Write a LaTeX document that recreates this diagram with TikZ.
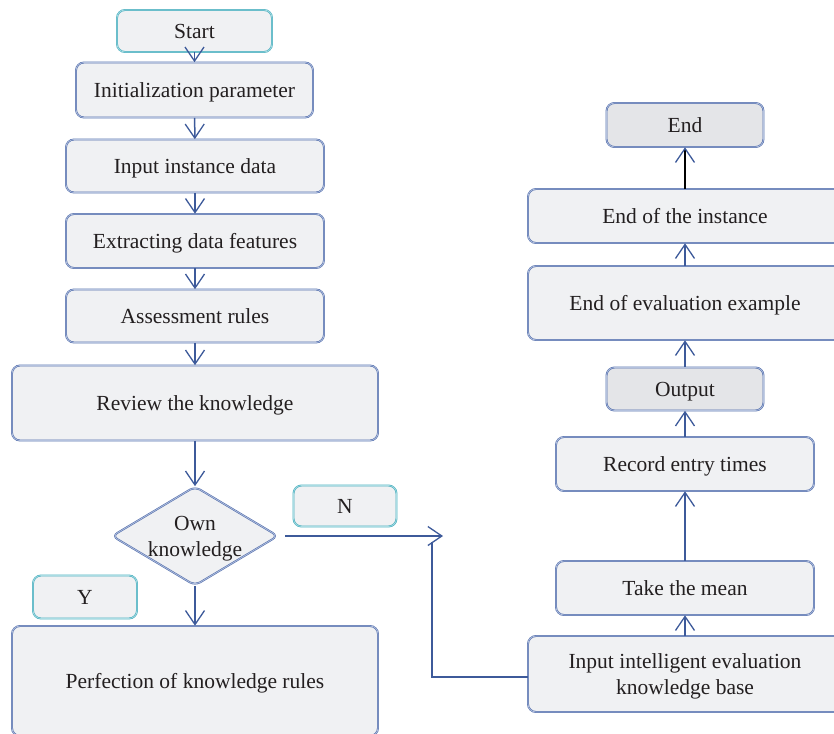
\documentclass[tikz,border=0pt]{standalone}
\usepackage{fontspec}
\setmainfont{Liberation Serif}
\usepackage{tikz}
\usetikzlibrary{arrows.meta}
\usetikzlibrary{shapes.geometric}
\usetikzlibrary{positioning}
\definecolor{boxfill}{HTML}{F0F1F3}
\definecolor{darkfill}{HTML}{E4E5E8}
\definecolor{boxline}{HTML}{5570AE}
\definecolor{boxinner}{HTML}{B3C1DE}
\definecolor{tealline}{HTML}{4AAFBF}
\definecolor{tealinner}{HTML}{A8DCE3}
\definecolor{arrowblue}{HTML}{3D5A9A}
\definecolor{txt}{HTML}{231F20}
\tikzstyle{stepbox}=[draw=boxline,double=boxinner,double distance=0.7pt,line width=0.6pt,fill=boxfill,rounded corners=8pt,text=txt,align=center,inner sep=2pt,text depth=0pt]
\tikzstyle{tagbox}=[stepbox,draw=tealline,double=tealinner]
\tikzstyle{decision}=[stepbox,diamond,aspect=1.68,inner sep=0pt,rounded corners=6pt]
\tikzstyle{flow}=[draw=arrowblue,line width=1.5pt,-{Straight Barb[length=14pt,width=19pt,line width=1.3pt]}]
\tikzstyle{wire}=[draw=arrowblue,line width=1.5pt]

\begin{document}
\begin{tikzpicture}[x=1pt,y=-1pt,font=\fontsize{21.5}{26}\selectfont]
\useasboundingbox (0,0) rectangle (834,733);
% left column
\node [tagbox,minimum width=155pt,minimum height=42pt] (start) at (194.5,31) {Start};
\node [stepbox,minimum width=237pt,minimum height=55pt] (init) at (194.5,90) {Initialization parameter};
\node [stepbox,minimum width=258pt,minimum height=53pt] (input) at (195,166) {Input instance data};
\node [stepbox,minimum width=258pt,minimum height=54pt] (extract) at (195,241) {Extracting data features};
\node [stepbox,minimum width=258pt,minimum height=53pt] (rules) at (195,316) {Assessment rules};
\node [stepbox,minimum width=366pt,minimum height=75pt] (review) at (195,403) {Review the knowledge};
\node [decision,minimum width=166pt,minimum height=99pt] (own) at (195,536) {Own\\knowledge};
\node [tagbox,minimum width=103pt,minimum height=41pt] (no) at (345,506) {N};
\node [tagbox,minimum width=104pt,minimum height=43pt] (yes) at (85,597) {Y};
\node [stepbox,minimum width=366pt,minimum height=110pt] (perfect) at (195,681) {Perfection of knowledge rules};

% right column
\node [stepbox,fill=darkfill,minimum width=157pt,minimum height=44pt] (end) at (685,125) {End};
\node [stepbox,minimum width=314pt,minimum height=54pt] (eoi) at (685,216) {End of the instance};
\node [stepbox,minimum width=314pt,minimum height=74pt] (eoe) at (685,303) {End of evaluation example};
\node [stepbox,fill=darkfill,minimum width=157pt,minimum height=43pt] (output) at (685,389) {Output};
\node [stepbox,minimum width=258pt,minimum height=54pt] (record) at (685,464) {Record entry times};
\node [stepbox,minimum width=258pt,minimum height=54pt] (mean) at (685,588) {Take the mean};
\node [stepbox,minimum width=314pt,minimum height=76pt] (iikb) at (685,674) {Input intelligent evaluation\\knowledge base};

\coordinate (ntip) at (443,536);
\coordinate (nbend) at (432,542);

\draw[flow] (start) -- (init);
\draw[flow] (init) -- (input);
\draw[flow] (input) -- (extract);
\draw[flow] (extract) -- (rules);
\draw[flow] (rules) -- (review);
\draw[flow] (review) -- (own);
\draw[flow] (own) -- (perfect);
\draw[flow] ([xshift=7pt]own.east) -- (ntip);
\draw[wire] ([yshift=-3pt]iikb.west) -| (nbend);

\draw[flow] (iikb) -- (mean);
\draw[flow] (mean) -- (record);
\draw[flow] (record) -- (output);
\draw[flow] (output) -- (eoe);
\draw[flow] (eoe) -- (eoi);
\draw[flow,draw=black,-{Straight Barb[length=14pt,width=19pt,line width=1.3pt,color=arrowblue]}] (eoi) -- (end);
\end{tikzpicture}
\end{document}
